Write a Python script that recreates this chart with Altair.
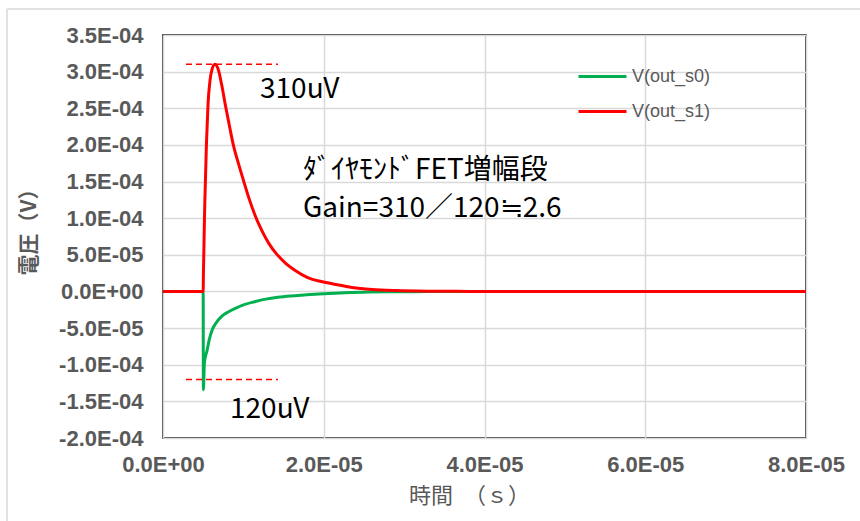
import json
import altair as alt
import pandas as pd

# Transient response of the two outputs (time in microseconds, voltage in 1e-4 V)
t_s0_us = [0, 5.0, 5.02, 5.15, 5.3, 5.45, 5.75, 6.1, 6.6, 7.3, 8.1, 9.0, 10.1, 11.4, 12.8, 14.3,
           15.9, 17.6, 20.0, 22.6, 25.5, 28, 31, 35, 40, 80]
v_s0 = [0, 0, -1.34, -0.98, -0.88, -0.82, -0.66, -0.53, -0.43, -0.34, -0.28, -0.23, -0.18, -0.14,
        -0.105, -0.08, -0.062, -0.048, -0.03, -0.016, -0.009, -0.005, -0.003, -0.001, 0, 0]

t_s1_us = [0, 5.0, 5.03, 5.2, 5.4, 5.6, 5.85, 6.1, 6.47, 6.9, 7.3, 7.8, 8.3, 8.75, 9.4, 10.0,
           10.7, 11.45, 12.3, 13.2, 14.15, 15.3, 16.4, 18.0, 19.7, 21.5, 23.5, 26, 29, 33, 38, 40, 80]
v_s1 = [0, 0, 0.25, 1.2, 2.0, 2.55, 2.88, 3.03, 3.1, 3.02, 2.82, 2.52, 2.24, 2.0, 1.74, 1.52,
        1.27, 1.04, 0.83, 0.65, 0.51, 0.38, 0.29, 0.19, 0.135, 0.095, 0.055, 0.027, 0.012, 0.004,
        0.001, 0, 0]

series_names = ["V(out_s0)", "V(out_s1)"]
series_colors = ["#00b050", "#ff0000"]

# Axis ticks and their Excel-style labels
y_ticks = [-2.0e-4, -1.5e-4, -1.0e-4, -5.0e-5, 0.0, 5.0e-5, 1.0e-4, 1.5e-4, 2.0e-4, 2.5e-4, 3.0e-4, 3.5e-4]
y_labels = ["-2.0E-04", "-1.5E-04", "-1.0E-04", "-5.0E-05", "0.0E+00", "5.0E-05",
            "1.0E-04", "1.5E-04", "2.0E-04", "2.5E-04", "3.0E-04", "3.5E-04"]
x_ticks = [0.0, 2.0e-5, 4.0e-5, 6.0e-5, 8.0e-5]
x_labels = ["0.0E+00", "2.0E-05", "4.0E-05", "6.0E-05", "8.0E-05"]

x_title = "時間　（ｓ）"
y_title = "電圧（V）"

# Peak markers (dashed) and their notes
peak_levels = [3.1e-4, -1.2e-4]
peak_span = [2.86e-6, 1.43e-5]

notes_text = ["310uV", "120uV", "ﾀﾞｲﾔﾓﾝﾄﾞFET増幅段", "Gain=310／120≒2.6"]
notes_t = [1.207e-5, 8.34e-6, 1.742e-5, 1.742e-5]
notes_v = [2.75e-4, -1.617e-4, 1.645e-4, 1.126e-4]

rows = []
for t, v in zip(t_s0_us, v_s0):
    rows.append({"t": t * 1e-6, "v": v * 1e-4, "series": series_names[0]})
for t, v in zip(t_s1_us, v_s1):
    rows.append({"t": t * 1e-6, "v": v * 1e-4, "series": series_names[1]})
wave = pd.DataFrame(rows)

GRID = "#d9d9d9"
LABEL = "#595959"

x_scale = alt.Scale(domain=[0, 8e-5], nice=False, zero=False)
y_scale = alt.Scale(domain=[-2e-4, 3.5e-4], nice=False, zero=False)

x_axis = alt.Axis(
    values=x_ticks,
    labelExpr=f"{json.dumps(x_labels)}[round(datum.value / 0.00002)]",
    title=x_title,
    titleX=306, titleY=57, titleAlign="center", titleBaseline="middle",
    titleFont="Noto Sans CJK JP", titleFontSize=22, titleFontWeight="normal", titleColor=LABEL,
    labelFont="Liberation Sans", labelFontSize=22, labelFontWeight="bold", labelColor=LABEL,
    labelPadding=16, ticks=False, domain=False, grid=True, gridColor=GRID, gridWidth=1.5,
    labelFlush=False, labelOverlap=False,
)
y_axis = alt.Axis(
    values=y_ticks,
    labelExpr=f"{json.dumps(y_labels)}[round((datum.value + 0.0002) / 0.00005)]",
    title=None,
    labelFont="Liberation Sans", labelFontSize=22, labelFontWeight="bold", labelColor=LABEL,
    labelPadding=20, ticks=False, domain=False, grid=True, gridColor=GRID, gridWidth=1.5,
    labelFlush=False, labelOverlap=False,
)


def xpos(field):
    return alt.X(field, scale=x_scale, axis=x_axis)


def ypos(field):
    return alt.Y(field, scale=y_scale, axis=y_axis)


lines = alt.Chart(wave).mark_line(strokeWidth=3, interpolate="monotone").encode(
    x=xpos("t:Q"),
    y=ypos("v:Q"),
    color=alt.Color(
        "series:N",
        scale=alt.Scale(domain=series_names, range=series_colors),
        legend=alt.Legend(
            title=None, orient="none", legendX=414, legendY=16,
            symbolType="stroke", symbolSize=2304, symbolStrokeWidth=3,
            labelFont="Liberation Sans", labelFontSize=18, labelColor=LABEL,
            labelOffset=4, rowPadding=-13,
        ),
    ),
)

marker_df = pd.DataFrame({"t0": [peak_span[0]] * 2, "t1": [peak_span[1]] * 2, "v": peak_levels})
markers = alt.Chart(marker_df).mark_rule(color="#ff0000", strokeWidth=1.5, strokeDash=[6, 4]).encode(
    x=xpos("t0:Q"), x2="t1:Q", y=ypos("v:Q")
)

notes_df = pd.DataFrame({"t": notes_t, "v": notes_v, "label": notes_text})
notes = alt.Chart(notes_df).mark_text(
    align="left", baseline="middle", font="Noto Sans CJK JP", fontSize=28, color="#000000"
).encode(x=xpos("t:Q"), y=ypos("v:Q"), text="label:N")

# Vertical-axis title, set beside the tick labels
frame_src = pd.DataFrame({"k": [0]})
y_title_mark = alt.Chart(frame_src).mark_text(
    angle=270, align="center", baseline="middle", font="Noto Sans CJK JP",
    fontSize=21, fontWeight="bold", color=LABEL,
).encode(x=alt.value(-133), y=alt.value(192), text=alt.value(y_title))

# Outer chart-area frame (left and top edges)
frame_left = alt.Chart(frame_src).mark_rule(color=GRID, strokeWidth=1.5).encode(
    x=alt.value(-156), y=alt.value(-26), y2=alt.value(486)
)
frame_top = alt.Chart(frame_src).mark_rule(color=GRID, strokeWidth=1.5).encode(
    x=alt.value(-156), x2=alt.value(697), y=alt.value(-26)
)

chart = alt.layer(lines, markers, notes, y_title_mark, frame_left, frame_top).properties(
    width=643, height=403,
    autosize=alt.AutoSizeParams(type="none"),
    padding={"left": 163, "top": 35, "right": 54, "bottom": 83},
    background="#ffffff",
).configure_view(stroke="#000000", strokeWidth=1.5)

chart.save("out.html", embed_options={"renderer": "svg", "actions": False})
